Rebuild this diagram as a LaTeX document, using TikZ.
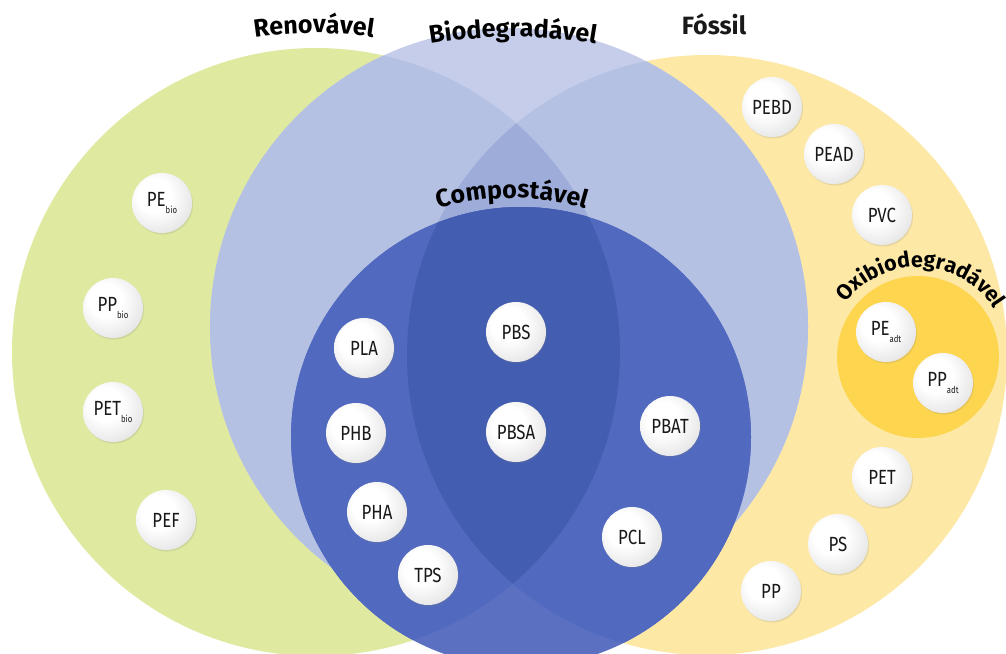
\documentclass[tikz,border=0pt]{standalone}
\usepackage{fontspec}
\setmainfont{Fira Sans}
\newfontfamily\bubfont{Fira Sans}[FakeStretch=0.82]
\newfontfamily\headfont{Fira Sans}
\usetikzlibrary{decorations.text,shadows}
\definecolor{renov}{HTML}{DFE9A0}
\definecolor{fossil}{HTML}{FDE8A6}
\definecolor{biolight}{HTML}{C6CDEA}
\definecolor{biomid}{HTML}{B4C1E3}
\definecolor{biolens}{HTML}{9EACDA}
\definecolor{compbase}{HTML}{5B70C1}
\definecolor{compmid}{HTML}{5169BF}
\definecolor{complens}{HTML}{435DB1}
\definecolor{oxi}{HTML}{FDD54E}
\pgfdeclareradialshading{bubbleshade}{\pgfpoint{-8bp}{8bp}}{color(0bp)=(white); color(14bp)=(white); color(30bp)=(black!9); color(50bp)=(black!20); color(70bp)=(black!23)}
\newcommand\lowsub[1]{\raisebox{-0.3em}{\fontsize{9.5}{9.5}\selectfont #1}}
\tikzset{
  bubble/.style={circle, minimum size=60pt, inner sep=0pt, shade, shading=bubbleshade,
    font=\bubfont\fontsize{20.5}{20.5}\selectfont, text=black!90,
    drop shadow={shadow xshift=1pt, shadow yshift=-1.5pt, opacity=0.18}},
  headlabel/.style={font=\headfont\bfseries\fontsize{25}{25}\selectfont, text=black!90, inner sep=0pt},
  arctext/.style 2 args={decorate, decoration={text along path, text align=center,
    text format delimiters={|}{|},
    text={|\headfont\bfseries\fontsize{#2}{#2}\selectfont|#1}}}
}
\begin{document}
\begin{tikzpicture}[x=1pt,y=-1pt]
\useasboundingbox (0,0) rectangle (1006,653);
\clip (0,0) rectangle (1006,653);
\fill[white] (0,0) rectangle (1006,653);
% coordinates of circle centres
\coordinate (G) at (316,352);
\coordinate (Y) at (707,355);
\coordinate (B) at (509,327);
\coordinate (C) at (521,437);
\coordinate (O) at (918,357);
% renewable and fossil
\fill[renov] (G) circle[radius=304pt];
\fill[fossil] (Y) circle[radius=300pt];
% biodegradable
\fill[biolight] (B) circle[radius=299pt];
\begin{scope}
  \clip (B) circle[radius=299pt];
  \fill[biomid] (G) circle[radius=304pt];
  \fill[biomid] (Y) circle[radius=300pt];
  \clip (G) circle[radius=304pt];
  \fill[biolens] (Y) circle[radius=300pt];
\end{scope}
% compostable
\fill[compbase] (C) circle[radius=230pt];
\begin{scope}
  \clip (C) circle[radius=230pt];
  \fill[compmid] (G) circle[radius=304pt];
  \fill[compmid] (Y) circle[radius=300pt];
  \clip (G) circle[radius=304pt];
  \fill[complens] (Y) circle[radius=300pt];
\end{scope}
% oxo-biodegradable
\fill[oxi] (O) circle[radius=81pt];

% headings
\path[arctext={Renovável}{25}] (233.5,41.5) arc[start angle=102, end angle=78, radius=387pt];
\path[arctext={Biodegradável}{25}] (402.3,49.6) arc[start angle=103, end angle=77, radius=492pt];
\node[headlabel, anchor=base] (fossiltitle) at (714,34) {Fóssil};
\path[arctext={Compostável}{25}] (384,232.3) arc[start angle=120, end angle=60, radius=256pt];
\path[arctext={Oxibiodegradável}{21.5}] (833.4,326.2) arc[start angle=160, end angle=15, radius=90pt];

% renewable bubbles
\node[bubble] (pebio) at (162,203) {PE\lowsub{bio}};
\node[bubble] (ppbio) at (113,308) {PP\lowsub{bio}};
\node[bubble] (petbio) at (113,412) {PET\lowsub{bio}};
\node[bubble] (pef) at (166,520) {PEF};
% compostable bubbles
\node[bubble] (pla) at (364,348) {PLA};
\node[bubble] (phb) at (356,433) {PHB};
\node[bubble] (pha) at (377,512) {PHA};
\node[bubble] (tps) at (428,575) {TPS};
\node[bubble] (pbs) at (516,332) {PBS};
\node[bubble] (pbsa) at (516,432) {PBSA};
\node[bubble] (pbat) at (670,426) {PBAT};
\node[bubble] (pcl) at (632,537) {PCL};
% fossil bubbles
\node[bubble] (pebd) at (772,107) {PEBD};
\node[bubble] (pead) at (834,154) {PEAD};
\node[bubble] (pvc) at (882,215) {PVC};
\node[bubble] (peadt) at (886,332) {PE\lowsub{adt}};
\node[bubble] (ppadt) at (943,383) {PP\lowsub{adt}};
\node[bubble] (pet) at (882,477) {PET};
\node[bubble] (ps) at (838,544) {PS};
\node[bubble] (pp) at (771,591) {PP};
\end{tikzpicture}
\end{document}
